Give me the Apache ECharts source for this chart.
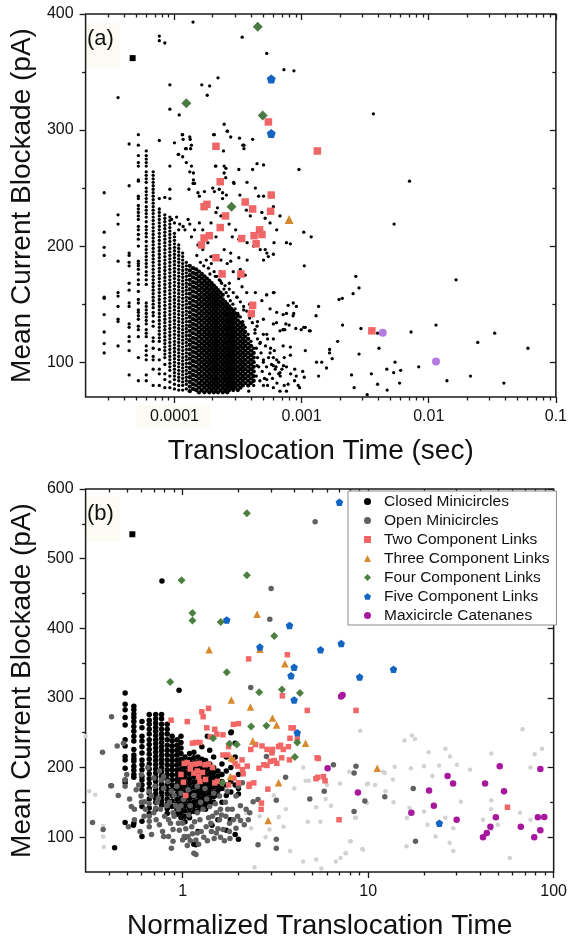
<!DOCTYPE html>
<html><head><meta charset="utf-8">
<script src="https://cdn.jsdelivr.net/npm/echarts@6/dist/echarts.min.js"></script>
<style>html,body{margin:0;padding:0;background:#fff}#c{width:570px;height:941px}</style>
</head><body><div id="c"></div>
<script>
// ---------------- Panel (a) data ----------------
const stripeTimes = [2.8e-5, 3.6e-5, 4.4e-5, 5.2e-5, 6.0e-5, 6.8e-5, 7.6e-5, 8.4e-5, 9.2e-5, 1.0e-4, 1.08e-4, 1.16e-4, 1.24e-4];
const stripeValues = [
 [246,212,199,192,156,155,141,126,116,108],
 [328,227,219,187,160,157,148,137,135,114],
 [288,252,194,192,186,183,168,162,151,148,133,130,122,118,110,89],
 [296,287,278,272,269,257,256,243,241,235,232,229,226,223,217,214,210,206,200,187,185,183,180,176,171,167,161,154,151,145,143,140,137,131,128,122,104,84],
 [282,278,275,272,269,264,261,258,255,250,247,244,241,238,234,231,228,225,221,217,214,211,208,204,200,197,194,191,188,185,182,178,175,171,167,151,148,145,142,139,136,133,128,125,122,114,110,106,102,89,84],
 [264,261,258,255,252,249,246,243,240,237,234,231,228,225,222,219,216,213,210,207,204,201,198,195,192,189,186,183,180,177,174,171,168,165,162,159,156,153,150,147,143,140,135,131,121,118,112,105,102,94,80],
 [241,232,229,226,223,220,217,214,211,208,205,202,199,196,193,190,187,184,181,178,175,172,169,166,163,160,157,154,151,148,145,142,139,136,133,130,127,124,121,118,111,102,94,90,80],
 [242,227,224,221,218,215,212,209,206,203,200,197,194,191,188,185,182,179,176,173,170,167,164,161,158,155,152,149,146,143,140,137,134,131,128,125,122,119,116,113,110,107,104,98,90,85,78],
 [249,241,225,222,219,216,213,210,207,204,201,198,195,192,189,186,183,180,177,174,171,168,165,162,159,156,153,150,147,144,141,138,135,132,129,126,123,120,117,114,111,108,105,102,99,96,93,88,83,78],
 [220,211,208,205,202,199,196,193,190,187,184,181,178,175,172,169,166,163,160,157,154,151,148,145,142,139,136,133,130,127,124,121,118,115,112,109,106,103,100,97,94,91,88,85,81,77],
 [214,201,198,195,192,189,186,183,180,177,174,171,168,165,162,159,156,153,150,147,144,141,138,135,132,129,126,123,120,117,114,111,108,105,102,99,96,93,90,87,84,80,76],
 [194,191,188,185,182,179,176,173,170,167,164,161,158,155,152,149,146,143,140,137,134,131,128,125,122,119,116,113,110,107,104,101,98,95,92,89,86,83,80,76],
 [186,183,180,177,174,171,168,165,162,159,156,153,150,147,144,141,138,135,132,129,126,123,120,117,114,111,108,105,102,99,96,93,90,87,84,81,77]
];
const blobTimes = [1.32e-4,1.40e-4,1.48e-4,1.56e-4,1.64e-4,1.72e-4,1.80e-4,1.88e-4,1.96e-4,2.04e-4,2.12e-4,2.20e-4,2.30e-4,2.40e-4,2.50e-4,2.60e-4,2.70e-4,2.80e-4,2.90e-4,3.00e-4,3.15e-4,3.30e-4,3.45e-4,3.60e-4,3.80e-4,4.00e-4,4.20e-4];
const blobValues = [
 [183,179,175,171,167,163,159,155,151,147,143,139,135,131,127,123,119,115,111,107,103,99,95,91,87,83,79,75],
 [181,177,173,169,165,161,157,153,149,145,141,137,133,129,125,121,117,113,109,105,101,97,93,89,85,81,77],
 [180,176,172,168,164,160,156,152,148,144,140,136,132,128,124,120,116,112,108,104,100,96,92,88,84,80,76],
 [178,174,170,166,162,158,154,150,146,142,138,134,130,126,122,118,114,110,106,102,98,94,90,86,82,78,74],
 [176,172,168,164,160,156,152,148,144,140,136,132,128,124,120,116,112,108,104,100,96,92,88,84,80,76],
 [174,170,166,162,158,154,150,146,142,138,134,130,126,122,118,114,110,106,102,98,94,90,86,82,78,74],
 [172,168,164,160,156,152,148,144,140,136,132,128,124,120,116,112,108,104,100,96,92,88,84,80,76],
 [170,166,162,158,154,150,146,142,138,134,130,126,122,118,114,110,106,102,98,94,90,86,82,78,74],
 [168,164,160,156,152,148,144,140,136,132,128,124,120,116,112,108,104,100,96,92,88,84,80,76],
 [166,162,158,154,150,146,142,138,134,130,126,122,118,114,110,106,102,98,94,90,86,82,78,74],
 [164,160,156,152,148,144,140,136,132,128,124,120,116,112,108,104,100,96,92,88,84,80,76],
 [162,158,154,150,146,142,138,134,130,126,122,118,114,110,106,102,98,94,90,86,82,78,74],
 [160,156,152,148,144,140,136,132,128,124,120,116,112,108,104,100,96,92,88,84,80,76],
 [158,154,150,146,142,138,134,130,126,122,118,114,110,106,102,98,94,90,86,82,78,74],
 [152,148,144,140,136,132,128,124,120,116,112,108,104,100,96,92,88,84,80,76],
 [150,146,142,138,134,130,126,122,118,114,110,106,102,98,94,90,86,82,78,74],
 [148,144,140,136,132,128,124,120,116,112,108,104,100,96,92,88,84,80,76],
 [146,142,138,134,130,126,122,118,114,110,106,102,98,94,90,86,82,78],
 [144,140,136,132,128,124,120,116,112,108,104,100,96,92,88,84,80,76],
 [142,138,134,130,126,122,118,114,110,106,102,98,94,90,86,82,78],
 [140,136,132,128,124,120,116,112,108,104,100,96,92,88,84,80,76],
 [134,130,126,122,118,114,110,106,102,98,94,90,86,82,78],
 [132,128,124,120,116,112,108,104,100,96,92,88,84,80],
 [126,122,118,114,110,106,102,98,94,90,86,82],
 [120,116,112,108,104,100,96,92,88,84,80],
 [114,110,106,102,98,94,90,86,82],
 [108,104,100,96,92,88,84]
];
const looseEventsA = [
 [1.40e-4,393],[7.6e-5,381],[7.6e-5,377],[8.4e-5,375],[3.41e-4,380],[5.32e-4,366],[7.26e-4,352],[8.7e-4,351],[9.2e-5,339],[1.64e-4,339],[1.89e-4,338],[2.2e-4,345],[1.81e-4,330],[9.2e-5,318],[1.09e-4,313],[2.46e-4,305],[7.6e-5,291],[1.0e-4,289],[1.16e-4,296],[1.17e-4,292],[1.32e-4,294],[1.33e-4,292],[1.22e-4,284],[1.34e-4,284],[1.08e-4,279],[1.16e-4,277],[2.03e-4,296],[2.43e-4,282],[2.6e-4,299],[2.77e-4,294],[3.25e-4,293],[3.52e-4,287],[3.52e-4,284],[4.12e-4,292],[4.46e-4,271],[9.53e-4,266],[2.1e-4,269],[2.46e-4,269],[2.46e-4,263],[2.53e-4,259],[1.24e-4,272],[1.36e-4,269],[1.41e-4,263],[1.32e-4,264],[1.41e-4,257],[1.40e-4,254],[9.2e-5,269],[3.21e-4,266],[4.12e-4,266],[3.72e-4,255],[2.92e-4,255],
 [1.15e-4,296],[1.24e-4,284],[1.36e-4,287],[1.07e-4,279],[2.06e-4,296],[1.53e-4,246],[1.57e-4,243],[1.72e-4,247],[2.0e-4,250],[2.06e-4,247],[2.25e-4,249],[2.39e-4,246],[2.56e-4,244],[2.39e-4,241],[2.94e-4,254],[3.27e-4,244],[3.5e-4,237],[3.68e-4,231],[4.33e-4,250],[4.59e-4,243],[3.95e-4,226],[5.02e-4,243],[6.0e-4,234],[6.76e-4,226],[4.87e-4,229],[5.17e-4,224],[5.65e-4,220],[6.37e-4,214],[9.5e-5,223],[1.04e-4,225],[1.10e-4,219],[1.17e-4,217],[1.28e-4,223],[1.32e-4,219],[1.21e-4,214],[1.44e-4,214],[1.36e-4,208],[1.57e-4,220],[1.67e-4,214],[1.94e-4,220],[2.12e-4,208],[2.18e-4,233],[2.12e-4,229],[2.32e-4,226],[2.69e-4,219],[3.03e-4,214],[2.85e-4,208],[3.21e-4,206],[3.73e-4,203],[4.2e-4,200],[4.73e-4,197],[5.33e-4,194],[6.0e-4,193],[2.46e-4,197],[2.77e-4,194],[1.83e-4,203],[1.53e-4,201],[1.67e-4,197],[1.94e-4,191],[2.32e-4,188],[2.77e-4,187],[3.21e-4,190],[3.73e-4,188],[5.02e-4,188],[1.44e-4,254],[1.30e-4,249],[2.12e-4,269],[2.54e-4,267],[5.02e-4,270],[2.61e-4,299],[3.45e-4,287],
 [1.6e-4,186],[1.7e-4,183],[1.78e-4,188],[1.85e-4,181],[1.95e-4,185],[2.05e-4,178],[2.15e-4,174],[2.25e-4,171],[2.35e-4,168],[2.45e-4,163],[2.55e-4,160],[2.65e-4,157],[2.75e-4,153],[2.88e-4,150],[3.0e-4,146],[3.15e-4,142],[3.3e-4,139],[3.45e-4,135],[3.6e-4,130],[3.8e-4,124],[4.0e-4,118],[4.2e-4,112],[1.5e-4,192],[1.9e-4,176],[2.3e-4,178],[2.7e-4,168],[3.1e-4,156],[3.5e-4,145],[4.3e-4,125],[2.6e-4,185],[2.9e-4,178],[3.2e-4,172],[3.4e-4,165],[3.7e-4,160],[3.9e-4,150],[4.1e-4,140],[4.5e-4,135],[3.3e-4,180],[3.6e-4,175],
 [4.4e-4,112],[4.5e-4,104],[4.6e-4,96],[4.4e-4,88],[4.7e-4,84],[4.8e-4,108],[4.9e-4,92],[5.0e-4,100],[5.1e-4,86],[5.2e-4,114],[5.3e-4,96],[5.4e-4,80],[5.5e-4,104],[5.6e-4,90],[5.8e-4,98],[5.9e-4,86],[6.1e-4,110],[6.2e-4,94],[6.4e-4,82],[6.6e-4,100],[6.8e-4,88],[7.0e-4,94],[7.3e-4,80],[4.5e-4,120],[4.7e-4,116],[5.0e-4,124],[4.3e-4,128],[4.1e-4,134],[3.9e-4,138],[3.7e-4,144],[3.5e-4,148],[3.3e-4,152],[3.1e-4,156],[2.9e-4,160],[2.7e-4,163],[2.5e-4,166],[2.3e-4,170],[2.1e-4,174],[5.4e-4,120],[5.7e-4,112],[6.0e-4,104],[6.3e-4,96],[6.6e-4,90],[7.6e-4,96],[8.2e-4,90],[8.8e-4,84],[9.4e-4,80],
 [4.33e-4,160],[5.32e-4,158],[6.0e-4,160],[4.87e-4,153],[5.65e-4,146],[6.37e-4,143],[7.16e-4,141],[5.01e-4,137],[6.0e-4,133],[4.46e-4,131],[6.76e-4,127],[5.32e-4,124],[6.0e-4,120],[4.73e-4,117],[7.16e-4,114],[5.65e-4,108],[6.37e-4,102],[5.01e-4,102],[4.46e-4,97],[6.0e-4,97],[6.76e-4,91],[5.32e-4,85],[4.2e-4,80],[5.01e-4,80],[6.0e-4,78],[6.76e-4,75],[3.84e-4,75],
 [5.48e-4,191],[5.17e-4,197],[6.07e-4,203],[7.6e-4,203],[5.3e-4,158],[6.07e-4,160],[8.6e-4,151],[9.1e-4,148],[6.35e-4,134],[7.16e-4,128],[8.57e-4,140],[9.93e-4,128],[1.15e-3,127],
 [3.67e-3,314],[7.06e-3,256],[5.34e-3,219],[1.04e-3,212],[1.19e-3,208],[8.16e-4,202],[1.05e-3,183],[1.64e-2,171],[2.67e-3,174],[2.83e-3,164],[2.54e-3,159],[1.97e-3,154],[2.09e-3,155],[7.83e-4,149],[7.6e-4,142],[8.67e-4,142],[1.36e-3,148],[1.3e-3,140],[7.52e-4,133],[7.98e-4,132],[7.16e-4,128],[7.38e-4,128],[9.0e-4,129],[1.04e-3,130],[1.07e-3,130],[1.17e-3,127],[2.1e-3,132],[2.93e-3,129],[3.96e-3,125],[7.26e-3,126],[1.14e-2,132],[3.3e-2,125],[2.43e-2,117],[6.03e-2,112],[1.92e-3,118],[8.16e-4,113],[8.16e-4,106],[1.07e-3,110],[1.66e-3,111],[1.66e-3,108],[1.74e-3,103],[1.57e-3,95],[1.31e-3,100],[1.44e-3,100],[2.83e-3,107],[4.06e-3,112],[5.43e-3,100],[4.68e-3,94],[5.3e-3,91],[6.01e-3,93],[8.34e-3,96],[1.39e-2,84],[2.13e-2,88],[3.9e-2,82],[5.9e-3,82],[3.54e-3,90],[3.96e-3,81],[4.71e-3,76],[2.47e-3,89],[2.59e-3,78],[3.28e-3,72],[1.36e-3,88],[8.83e-4,94],[9.08e-4,88],[9.64e-4,78],[7.83e-4,81],[7.6e-4,75],[1.02e-3,92],[1.05e-3,87],[7.2e-4,97],[7.3e-4,104]
];
const twoLinksA = [[2.12e-4,286],[5.48e-4,307],[1.33e-3,282],[2.29e-4,255.5],[5.77e-4,244],[1.71e-4,234],[1.80e-4,236],[3.6e-4,238],[4.12e-4,232],[5.7e-4,230],[2.52e-4,226],[2.29e-4,216],[1.88e-4,209],[1.71e-4,207],[1.63e-4,201],[3.38e-4,206.5],[4.67e-4,214],[4.23e-4,209],[4.88e-4,210],[4.39e-4,202],[2.12e-4,190],[2.37e-4,176],[3.33e-4,176],[4.12e-4,149],[4.02e-4,142],[3.57e-3,127]];
const threeLinksA = [[7.98e-4,223]];
const fourLinksA = [[4.52e-4,389],[1.24e-4,323],[4.94e-4,312.6],[2.81e-4,234]];
const fiveLinksA = [[5.77e-4,344],[5.77e-4,297]];
const maxiA = [[4.35e-3,125.4],[1.14e-2,100.5]];
const markerA = [[4.69e-5,362]];

// ---------------- Panel (b) data ----------------
const closedTimes = [0.49,0.546,0.604,0.661,0.716,0.77,0.826,0.878,0.933,0.98,1.03,1.09,1.15,1.21,1.27,1.33,1.40,1.47,1.55,1.63,1.72,1.82,1.92,2.0];
const closedValues = [
 [307,291,283,272,261,240,231,216,211,199,182,178,121],
 [288,283,277,272,266,259,252,245,238,226,218,213,209,202,196,190,186,120],
 [266,257,245,238,230,221,211,204,197,187,182,175,168,144,123,101],
 [276,268,262,255,248,240,233,226,219,212,205,198,191,184,177,170,163,155,142,134],
 [276,270,264,258,252,246,240,234,228,222,216,210,204,198,192,186,180,174,168,162,156,150,140],
 [276,270,262,255,248,242,236,230,224,218,212,206,200,194,188,182,176,170,164,158,152,146],
 [262,255,248,240,232,225,218,211,204,197,190,183,176,169,162,155,148,141,134],
 [245,238,231,224,217,210,203,196,189,182,175,168,160,152,144],
 [240,232,225,218,211,204,197,190,183,176,169,162,155,148,140,133],
 [245,236,228,220,212,205,198,191,184,177,170,163,156,149,142,135,128],
 [215,208,201,194,187,180,173,166,159,152,145,138,130,122,100],
 [220,212,205,198,191,184,177,170,163,156,149,142,135,128],
 [222,214,207,200,193,186,179,172,165,158,151,144,137,90],
 [215,208,201,194,187,180,173,166,159,152,145,138,108],
 [230,212,205,198,191,184,177,170,163,156,149,142],
 [210,203,196,189,182,175,168,161,154,147,140],
 [225,205,198,191,184,177,170,163,156,149],
 [215,200,193,186,179,172,165,158,150],
 [195,188,181,174,167,160,125],
 [205,190,180,170,150],
 [215,195,175,160,110],
 [250,200,180,165],
 [235,215,175,104],
 [190,170,162,97]
];
const closedExtra = [[0.43,85],[0.543,117],[0.774,468],[0.957,311],[1.83,251],[1.36,245],[1.18,89],[1.44,117],[1.81,125]];
const openB = [[0.414,273],[0.444,231],[0.49,182],[0.49,173],[0.414,174],[0.518,155],[0.529,144],[0.562,168],[0.597,159],[0.622,151],[0.661,166],[0.661,130],[0.661,123],[0.661,115],[0.716,142],[0.74,156],[0.75,118],[0.79,170],[0.79,187],[0.84,125],[0.84,101],[0.888,135],[0.95,140],[0.888,111],[1.0,96],[1.07,101],[1.15,77],[1.18,96],[1.08,132],[1.2,135],[1.29,140],[1.40,144],[1.52,135],[1.58,125],[1.71,130],[1.79,120],[1.34,115],[1.43,108],[1.52,106],[1.65,111],[1.79,108],[1.94,113],[1.2,106],[1.26,108],[1.02,101],[1.12,115],[1.18,75],[0.87,84],[0.79,101],[0.888,94],[0.78,108],[0.68,104],[0.59,108],[0.55,125],[0.51,115],[0.68,159],[0.71,173],[0.77,182],[0.83,180],[0.87,166],[0.93,173],[0.98,163],[1.01,154],[1.07,168],[1.2,173],[1.32,170],[1.47,163],[1.58,159],[1.74,166],[1.94,159],[2.0,173],[2.1,178],[2.4,151],[2.55,154],[2.26,125],[2.15,118],[2.05,124],[2.33,315],[3.0,457],[2.95,413],[5.18,553],[3.59,186],[4.85,155],[5.8,166],[8.4,137],[9.6,152],[12.3,158],[17.5,170],[18.0,94],[8.6,202],[8.4,192],[6.5,204],[3.2,153],[2.55,89],[3.2,97],[3.2,84],[2.83,216],[3.05,223],[0.37,222],[0.41,174],[0.327,121],[0.373,111],[0.6,190],[0.65,200],[0.7,185],[0.75,195],[0.85,150],[0.9,160],[0.95,120],[1.1,145],[1.25,150],[1.45,130],[1.6,140],[1.7,150],[1.85,140],[0.55,140],[0.62,130],[0.72,125],[0.45,160],[0.48,235],[0.5,190],[0.58,175],
 [0.6,150],[0.63,140],[0.66,148],[0.7,135],[0.73,150],[0.76,140],[0.8,130],[0.82,145],[0.86,120],[0.9,130],[0.92,145],[0.96,110],[1.0,120],[1.04,112],[1.06,88],[1.1,95],[1.13,105],[1.16,122],[1.22,90],[1.24,125],[1.3,100],[1.36,95],[1.38,128],[1.42,120],[1.48,98],[1.55,112],[1.6,100],[1.62,132],[1.68,95],[1.75,140],[1.8,98],[1.88,125],[1.98,130],[2.05,145],[2.2,140],[2.3,135],[1.5,148],[1.35,155],[1.15,160],[0.98,145]];
const faintB = [[9.07,253],[15.7,239],[17.2,246],[17.9,241],[26.1,227],[27.6,216],[21.2,222],[17,199],[20,202],[22.2,188],[24.1,203],[30.1,204],[35.4,197],[46.1,220],[46.1,153],[75,200],[79,219],[86.5,227],[68,255],[13.6,183],[12.05,194],[13.9,201],[10.9,175],[10,177],[9.84,149],[7.05,177],[7.9,194],[8.5,192],[8.5,128],[9.4,82],[8.0,94],[7.55,77],[7.1,70],[5.25,68],[4.46,65],[16.7,142],[16.2,128],[16.1,87],[20,137],[20.9,118],[23.1,101],[26.1,128],[28.8,113],[28.8,80],[27.5,92],[31.6,151],[46,140],[50,118],[46.1,112],[58,70],[41.6,125],[65.8,135],[75,125],[83,111],[2.44,57],[2.34,113],[2.94,111],[3.3,129],[3.8,80],[4.47,200],[4.6,181],[4.8,181],[4.73,122],[5.53,122],[5.25,143],[5.9,155],[5.6,55],[6.7,65],[7.6,77],[8.06,94],[8.6,128],[9.3,83],[9.85,176],[12.3,192],[12.4,166],[13.7,150],[0.314,166],[0.338,161],[0.373,116],[0.373,101],[0.376,86],[0.3,245],[2.2,135],[2.6,130],[3.5,115],[4.0,170],[3.1,160],[3.6,140],[2.8,100],[6.0,175],[6.3,145]];
const twoLinksB = [[2.27,356],[3.67,362],[3.45,303],[4.70,282],[8.61,282],[1.38,285],[1.27,280],[1.29,273],[0.867,268],[1.06,266],[1.35,257],[1.49,255],[1.53,248],[1.41,244],[1.13,235],[1.18,236],[1.24,236],[1.65,247],[1.77,230],[1.88,262],[2.0,263],[1.02,206],[1.06,207],[1.11,204],[1.17,205],[1.23,206],[1.32,204],[1.38,205],[1.01,179],[1.04,160],[1.24,180],[1.22,187],[1.49,178],[1.54,180],[1.65,218],[1.75,218],[1.86,211],[1.98,202],[2.10,197],[2.23,202],[2.28,173],[2.42,178],[2.58,199],[2.74,204],[2.97,209],[3.22,206],[3.42,214],[2.33,226],[2.47,233],[2.68,231],[2.85,226],[3.03,221],[3.29,230],[3.49,226],[3.72,230],[3.95,257],[3.79,242],[5.31,214],[5.35,186],[2.66,149],[2.65,140],[2.88,169],[5.39,213],[5.23,184],[5.74,187],[5.86,181],[6.97,125],[56.4,143],[3.84,257],[4.15,241],[3.37,232],[3.05,226],[3.12,210],[3.77,211],[2.85,203],[1.89,185],[2.12,191],[2.0,178],[1.77,175],[2.29,176],[1.92,206],[2.09,211],[1.10,198],[1.15,192],[1.28,193],[1.33,183],[1.45,200],[0.98,190],[1.2,195]];
const threeLinksB = [[2.52,420],[1.39,369],[2.61,370],[3.56,349],[1.83,297],[2.32,287],[3.05,271],[3.21,261],[2.39,238],[4.6,235],[1.83,214],[1.81,187],[11.2,199],[3.29,178],[2.89,124]];
const fourLinksB = [[2.22,565],[0.987,469],[2.22,476],[1.13,422],[1.13,411],[1.605,409],[3.12,389],[1.73,337],[0.857,323],[2.59,308],[3.43,312],[4.29,307],[2.34,259],[2.83,260],[1.46,242],[1.79,234],[1.96,233],[4.15,236],[4.03,215],[1.64,178]];
const fiveLinksB = [[7.0,581],[1.73,412],[3.77,404],[2.61,373],[7.16,378],[5.54,369],[3.99,344],[3.84,332],[9.0,330],[13.7,341],[3.99,297],[4.15,250],[24.2,120]];
const maxiB = [[7.28,304],[7.15,302],[6.05,199],[8.81,164],[17.1,135],[21.3,167],[22.6,145],[26.8,188],[28.7,177],[30.0,125],[42.7,177],[51.2,202],[54.0,166],[48.8,128.5],[45.6,115],[43.6,106],[41.6,100],[66.5,115],[78.6,100],[84.8,110],[82.2,128.5],[89.0,129],[84.8,198]];
const markerB = [[0.536,535]];

// ---------------- ticks & labels ----------------
const xRangeA = [2e-5, 0.1];
const yRangeA = [70, 400];
const xMajorA = [1e-4, 1e-3, 1e-2, 1e-1];
const xLabelsA = ['0.0001', '0.001', '0.01', '0.1'];
const xMinorA = [3e-5,4e-5,5e-5,6e-5,7e-5,8e-5,9e-5,2e-4,3e-4,4e-4,5e-4,6e-4,7e-4,8e-4,9e-4,2e-3,3e-3,4e-3,5e-3,6e-3,7e-3,8e-3,9e-3,2e-2,3e-2,4e-2,5e-2,6e-2,7e-2,8e-2,9e-2];
const yMajorA = [100, 200, 300, 400];
const yMinorA = [150, 250, 350];
const xRangeB = [0.3, 100];
const yRangeB = [50, 600];
const xMajorB = [1, 10, 100];
const xLabelsB = ['1', '10', '100'];
const xMinorB = [0.4,0.5,0.6,0.7,0.8,0.9,2,3,4,5,6,7,8,9,20,30,40,50,60,70,80,90];
const yMajorB = [100, 200, 300, 400, 500, 600];
const yMinorB = [150, 250, 350, 450, 550];

const legendNames = ['Closed Minicircles','Open Minicircles','Two Component Links','Three Component Links','Four Component Links','Five Component Links','Maxicircle Catenanes'];

// ---------------- build ----------------
const FONT = 'Liberation Sans';
const AX = '#1a1a1a';
const PENT = 'path://M50,0 L97.6,34.5 L79.4,90.5 L20.6,90.5 L2.4,34.5 Z';
const NO_LINE = { show: false, onZero: false };

function fromColumns(times, values) {
  const out = [];
  times.forEach((t, i) => values[i].forEach(v => out.push([t, v])));
  return out;
}
function labelFmt(majors, labels) {
  return function (v) {
    for (let i = 0; i < majors.length; i++) {
      if (Math.abs(Math.log10(v) - Math.log10(majors[i])) < 1e-6) return labels[i];
    }
    return '';
  };
}
function xTickAxis(gi, range, vals, len, pos, inside) {
  return { gridIndex: gi, type: 'value', position: pos, min: Math.log10(range[0]), max: Math.log10(range[1]),
    axisLine: NO_LINE, axisLabel: { show: false }, splitLine: { show: false },
    axisTick: { show: true, customValues: vals.map(v => Math.log10(v)), length: len, inside: inside, lineStyle: { color: AX, width: 1.3 } } };
}
function yTickAxis(gi, range, vals, len, pos, inside) {
  return { gridIndex: gi, type: 'value', position: pos, min: range[0], max: range[1],
    axisLine: NO_LINE, axisLabel: { show: false }, splitLine: { show: false },
    axisTick: { show: true, customValues: vals, length: len, inside: inside, lineStyle: { color: AX, width: 1.3 } } };
}
function scatter(gi, name, data, symbol, size, color, z) {
  return { type: 'scatter', name: name, xAxisIndex: gi, yAxisIndex: gi, data: data, symbol: symbol,
    symbolSize: size, itemStyle: { color: color, opacity: 1 }, silent: true, z: z || 2, large: false, animation: false };
}

const axisLabelStyle = { fontSize: 16, color: '#111', fontFamily: FONT, margin: 12 };
const nameStyle = { fontSize: 28, color: '#111', fontFamily: FONT };

const option = {
  animation: false,
  backgroundColor: '#fff',
  grid: [
    { left: 80.6, top: 14, width: 476.4, height: 383, show: true, borderColor: AX, borderWidth: 1.5, backgroundColor: 'transparent' },
    { left: 80.6, top: 489, width: 476.4, height: 383, show: true, borderColor: AX, borderWidth: 1.5, backgroundColor: 'transparent' }
  ],
  xAxis: [
    { gridIndex: 0, type: 'log', logBase: 10, min: xRangeA[0], max: xRangeA[1], position: 'bottom', axisLine: NO_LINE, axisTick: { show: false }, splitLine: { show: false },
      axisLabel: Object.assign({ formatter: labelFmt(xMajorA, xLabelsA), showMinLabel: true, showMaxLabel: true }, axisLabelStyle),
      name: 'Translocation Time (sec)', nameLocation: 'middle', nameGap: 40, nameTextStyle: nameStyle },
    { gridIndex: 1, type: 'log', logBase: 10, min: xRangeB[0], max: xRangeB[1], position: 'bottom', axisLine: NO_LINE, axisTick: { show: false }, splitLine: { show: false },
      axisLabel: Object.assign({ formatter: labelFmt(xMajorB, xLabelsB), showMinLabel: true, showMaxLabel: true }, axisLabelStyle),
      name: 'Normalized Translocation Time', nameLocation: 'middle', nameGap: 40, nameTextStyle: nameStyle },
    xTickAxis(0, xRangeA, xMajorA, 6, 'bottom', false),
    xTickAxis(0, xRangeA, xMinorA, 3.5, 'bottom', false),
    xTickAxis(0, xRangeA, xMajorA, 6, 'top', true),
    xTickAxis(0, xRangeA, xMinorA, 3.5, 'top', true),
    xTickAxis(1, xRangeB, xMajorB, 6, 'bottom', false),
    xTickAxis(1, xRangeB, xMinorB, 3.5, 'bottom', false),
    xTickAxis(1, xRangeB, xMajorB, 6, 'top', true),
    xTickAxis(1, xRangeB, xMinorB, 3.5, 'top', true)
  ],
  yAxis: [
    { gridIndex: 0, type: 'value', min: yRangeA[0], max: yRangeA[1], position: 'left', axisLine: NO_LINE,
      axisTick: { show: true, customValues: yMajorA, length: 6, lineStyle: { color: AX, width: 1.3 } }, splitLine: { show: false },
      axisLabel: Object.assign({ customValues: yMajorA }, axisLabelStyle),
      name: 'Mean Current Blockade (pA)', nameLocation: 'middle', nameGap: 43, nameTextStyle: nameStyle },
    { gridIndex: 1, type: 'value', min: yRangeB[0], max: yRangeB[1], position: 'left', axisLine: NO_LINE,
      axisTick: { show: true, customValues: yMajorB, length: 6, lineStyle: { color: AX, width: 1.3 } }, splitLine: { show: false },
      axisLabel: Object.assign({ customValues: yMajorB }, axisLabelStyle),
      name: 'Mean Current Blockade (pA)', nameLocation: 'middle', nameGap: 43, nameTextStyle: nameStyle },
    yTickAxis(0, yRangeA, yMinorA, 3.5, 'left', false),
    yTickAxis(0, yRangeA, yMajorA, 6, 'right', true),
    yTickAxis(0, yRangeA, yMinorA, 3.5, 'right', true),
    yTickAxis(1, yRangeB, yMinorB, 3.5, 'left', false),
    yTickAxis(1, yRangeB, yMajorB, 6, 'right', true),
    yTickAxis(1, yRangeB, yMinorB, 3.5, 'right', true)
  ],
  legend: {
    data: legendNames, orient: 'vertical', left: 348, top: 491, itemWidth: 7, itemHeight: 7, itemGap: 0,
    padding: [1, 7, 0, 16], borderColor: '#8a8a8a', borderWidth: 1, backgroundColor: '#fff', selectedMode: false,
    textStyle: { fontSize: 15.5, color: '#111', fontFamily: FONT, lineHeight: 19, padding: [0, 0, 0, 8] }, z: 20
  },
  graphic: [
    { type: 'rect', shape: { x: 85, y: 23, width: 35, height: 45 }, style: { fill: '#fcfcf5' }, z: -1, silent: true },
    { type: 'rect', shape: { x: 85, y: 496, width: 35, height: 46 }, style: { fill: '#fcfcf5' }, z: -1, silent: true },
    { type: 'rect', shape: { x: 136, y: 405, width: 74, height: 23 }, style: { fill: '#fcfcf5' }, z: -1, silent: true },
    { type: 'text', x: 87, y: 38.5, style: { text: '(a)', fontSize: 22, fill: '#111', fontFamily: FONT, verticalAlign: 'middle' }, z: 30 },
    { type: 'text', x: 87, y: 513.5, style: { text: '(b)', fontSize: 22, fill: '#111', fontFamily: FONT, verticalAlign: 'middle' }, z: 30 }
  ],
  series: [
    scatter(0, 'a-stripes', fromColumns(stripeTimes, stripeValues), 'circle', 3.3, '#000', 2),
    scatter(0, 'a-blob', fromColumns(blobTimes, blobValues), 'circle', 4.3, '#000', 2),
    scatter(0, 'a-loose', looseEventsA, 'circle', 3.3, '#000', 2),
    scatter(0, 'a-marker', markerA, 'rect', 6, '#000', 3),
    scatter(0, 'a-two', twoLinksA, 'rect', 7.5, '#f06565', 4),
    scatter(0, 'a-three', threeLinksA, 'triangle', 9, '#d4892e', 4),
    scatter(0, 'a-four', fourLinksA, 'diamond', 10, '#4b7a44', 4),
    scatter(0, 'a-five', fiveLinksA, PENT, 9, '#1565c0', 4),
    scatter(0, 'a-maxi', maxiA, 'circle', 8, '#b47be0', 4),
    scatter(1, 'b-faint', faintB, 'circle', 4.5, '#d2d2d2', 2),
    scatter(1, 'Closed Minicircles', fromColumns(closedTimes, closedValues).concat(closedExtra), 'circle', 5.5, '#000', 3),
    scatter(1, 'Open Minicircles', openB, 'circle', 5.5, '#606060', 3),
    scatter(1, 'b-marker', markerB, 'rect', 6, '#000', 3),
    scatter(1, 'Two Component Links', twoLinksB, 'rect', 5.5, '#f26666', 4),
    scatter(1, 'Three Component Links', threeLinksB, 'triangle', 7.5, '#d98a2e', 4),
    scatter(1, 'Four Component Links', fourLinksB, 'diamond', 8, '#4d8040', 4),
    scatter(1, 'Five Component Links', fiveLinksB, PENT, 7.5, '#1464c4', 4),
    scatter(1, 'Maxicircle Catenanes', maxiB, 'circle', 6.5, '#a8189f', 4)
  ]
};
const chart = echarts.init(document.getElementById('c'), null, { renderer: 'canvas' });
chart.setOption(option);
</script>
</body></html>
